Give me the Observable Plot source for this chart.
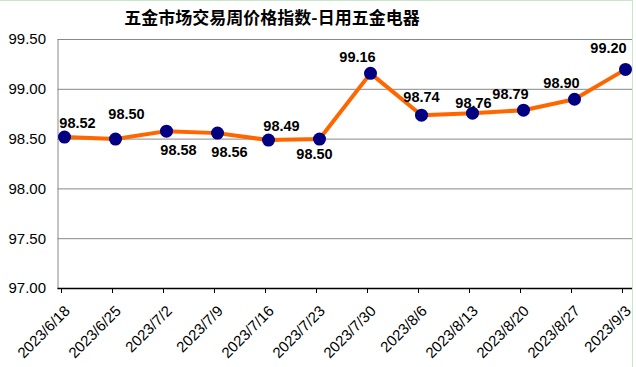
<!DOCTYPE html>
<html>
<head>
<meta charset="utf-8">
<script src="https://cdn.jsdelivr.net/npm/d3@7"></script>
<script src="https://cdn.jsdelivr.net/npm/@observablehq/plot@0.6"></script>
<style>
  html, body { margin: 0; padding: 0; background: #fff; }
  #wrap { position: relative; width: 636px; height: 367px; overflow: hidden; background: #fff; }
  #frame { position: absolute; left: 0; top: 0; width: 633px; height: 367px; box-sizing: border-box;
           border-top: 1px solid #c9e8c9; border-right: 1px solid #c9e8c9; pointer-events: none; }
  #title { position: absolute; left: 72px; top: 0; width: 400px; height: 34px; line-height: 34px;
           text-align: center; font-family: "Noto Sans CJK SC", sans-serif; font-weight: bold;
           font-size: 17px; color: #000; z-index: 2; }
  svg { position: absolute; left: 0; top: 0; }
</style>
</head>
<body>
<div id="wrap">
  <div id="title">五金市场交易周价格指数-日用五金电器</div>
  <div id="chart"></div>
  <div id="frame"></div>
</div>
<script>
const dates = ["2023/6/18","2023/6/25","2023/7/2","2023/7/9","2023/7/16","2023/7/23",
               "2023/7/30","2023/8/6","2023/8/13","2023/8/20","2023/8/27","2023/9/3"];
const values = [98.52, 98.50, 98.58, 98.56, 98.49, 98.50, 99.16, 98.74, 98.76, 98.79, 98.90, 99.20];
const labelPlacement = ["above-right","high-right","below-right","below-right","above-right","below-left",
                        "above-left","above","near","above-left","above-left","top-left"];
const yTicks = [97.0, 97.5, 98.0, 98.5, 99.0, 99.5];

const offsets = {
  "above-right": [13, -14],
  "high-right": [11, -25],
  "below-right": [12, 19],
  "below-left": [-5, 15],
  "above-left": [-13, -16],
  "above": [0, -17.5],
  "near": [1, -10],
  "top-left": [-17, -21]
};

const data = dates.map((d, i) => ({ date: d, value: values[i] }));

const font = "Liberation Sans, Arial, sans-serif";

const labelMarks = Object.keys(offsets).map(k => {
  const [dx, dy] = offsets[k];
  return Plot.text(data.filter((d, i) => labelPlacement[i] === k), {
    x: "date", y: "value", text: d => d.value.toFixed(2),
    dx, dy, lineAnchor: "middle", fontSize: 14.5, fontWeight: "bold", fill: "#000"
  });
});

const chart = Plot.plot({
  width: 636,
  height: 367,
  marginTop: 39,
  marginBottom: 79,
  marginLeft: 57.5,
  marginRight: 4,
  style: { fontFamily: font, background: "transparent", overflow: "visible" },
  x: { type: "point", domain: dates, range: [60, 628], padding: 0, label: null },
  y: { domain: [97, 99.5], label: null },
  marks: [
    Plot.gridY(yTicks, { stroke: "#888", strokeOpacity: 1 }),
    Plot.frame({ anchor: "left", stroke: "#888" }),
    Plot.axisY(yTicks, { tickSize: 0, tickPadding: 12, tickFormat: d => d.toFixed(2), fontSize: 15, fill: "#000", label: null }),
    Plot.ruleY([97], { stroke: "#000", strokeWidth: 1.5 }),
    Plot.axisX({ tickSize: 5, tickFormat: () => "", stroke: "#000", dx: -3, label: null }),
    Plot.text(dates, { x: d => d, frameAnchor: "bottom", text: d => d, rotate: -45,
      textAnchor: "end", lineAnchor: "middle", dx: 3, dy: 20, fontSize: 15, fill: "#000" }),
    Plot.line(data, { x: "date", y: "value", stroke: "#FF6600", strokeWidth: 4 }),
    Plot.dot(data, { x: "date", y: "value", r: 6.5, fill: "#000080", stroke: "none" }),
    ...labelMarks
  ]
});
document.getElementById("chart").appendChild(chart);
</script>
</body>
</html>
